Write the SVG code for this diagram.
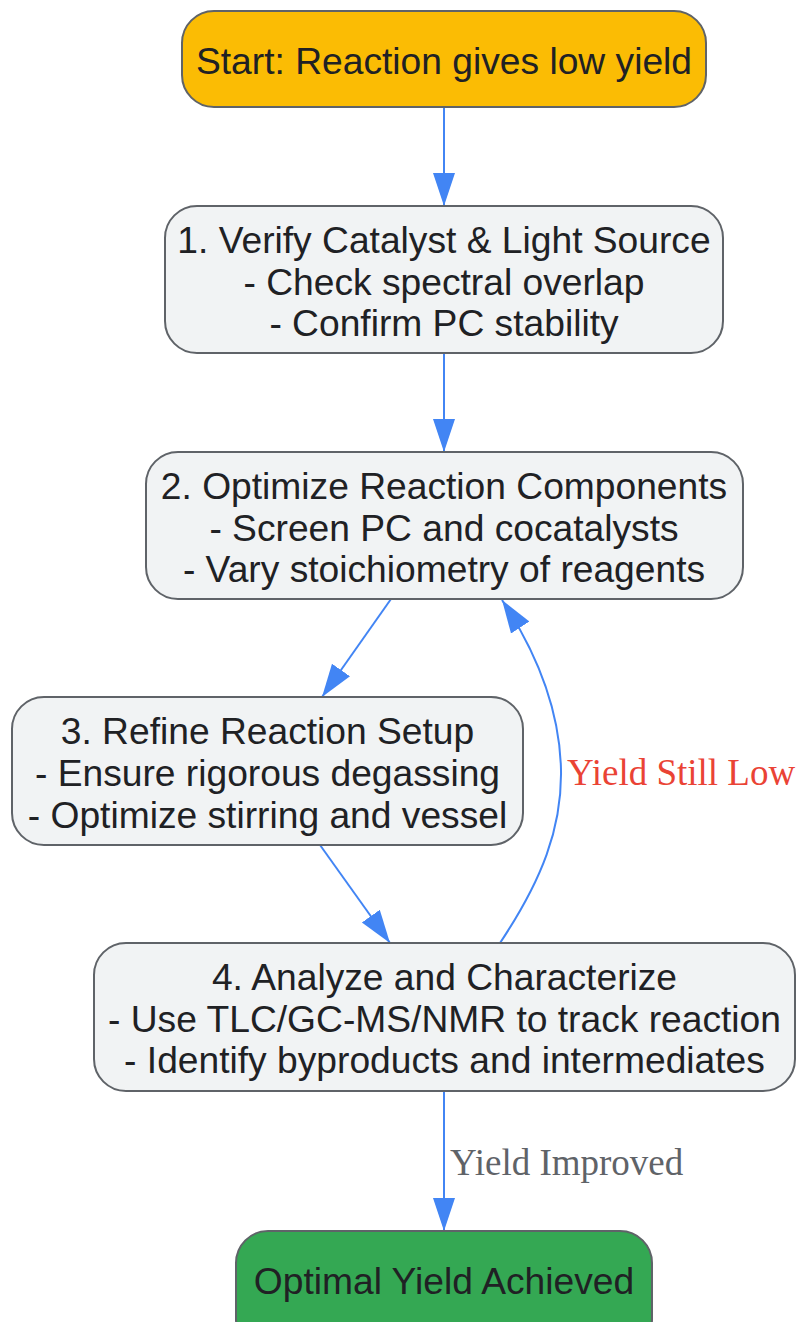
<svg xmlns="http://www.w3.org/2000/svg" width="798" height="1322" viewBox="0 0 798 1322">
<style>
.box{fill:#F1F3F4;stroke:#5F6368;stroke-width:2}
.t{font-family:"Liberation Sans",Arial,sans-serif;font-size:37.2px;fill:#202124;text-anchor:middle}
.e{fill:none;stroke:#4285F4;stroke-width:2}
.lbl{font-family:"Liberation Serif","Times New Roman",serif;font-size:37px}
</style>
<defs>
<marker id="ah" markerUnits="userSpaceOnUse" markerWidth="34" markerHeight="24" refX="33" refY="11" orient="auto" viewBox="0 0 34 22">
<path d="M0,0 L33,11 L0,22 Z" fill="#4285F4"/>
</marker>
</defs>
<rect width="798" height="1322" fill="#FFFFFF"/>
<g id="edges">
<path class="e" d="M444,107 L444,206" marker-end="url(#ah)"/>
<path class="e" d="M444,353 L444,452" marker-end="url(#ah)"/>
<path class="e" d="M391,599 L322,697" marker-end="url(#ah)"/>
<path class="e" d="M320,845 L390,943" marker-end="url(#ah)"/>
<path class="e" d="M500,943 C542,880 562,828 561,770 C560,720 545,665 502,600" marker-end="url(#ah)"/>
<path class="e" d="M444,1091 L444,1231" marker-end="url(#ah)"/>
<text class="lbl" x="567" y="785" fill="#EA4335">Yield Still Low</text>
<text class="lbl" x="450" y="1175" fill="#5F6368">Yield Improved</text>
</g>
<g id="start">
<rect x="182" y="11" width="524" height="96" rx="32" fill="#FBBC04" stroke="#5F6368" stroke-width="2"/>
<text class="t" x="444" y="74">Start: Reaction gives low yield</text>
</g>
<g id="step1">
<rect class="box" x="165" y="206" width="558" height="147" rx="32"/>
<text class="t" x="444" y="253">1. Verify Catalyst &amp; Light Source</text>
<text class="t" x="444" y="295">- Check spectral overlap</text>
<text class="t" x="444" y="336">- Confirm PC stability</text>
</g>
<g id="step2">
<rect class="box" x="146" y="452" width="597" height="147" rx="32"/>
<text class="t" x="444" y="499">2. Optimize Reaction Components</text>
<text class="t" x="444" y="541">- Screen PC and cocatalysts</text>
<text class="t" x="444" y="582">- Vary stoichiometry of reagents</text>
</g>
<g id="step3">
<rect class="box" x="12" y="697" width="511" height="148" rx="32"/>
<text class="t" x="267.5" y="744">3. Refine Reaction Setup</text>
<text class="t" x="267.5" y="786">- Ensure rigorous degassing</text>
<text class="t" x="267.5" y="828">- Optimize stirring and vessel</text>
</g>
<g id="step4">
<rect class="box" x="94" y="943" width="701" height="148" rx="32"/>
<text class="t" x="444.5" y="990">4. Analyze and Characterize</text>
<text class="t" x="444.5" y="1032">- Use TLC/GC-MS/NMR to track reaction</text>
<text class="t" x="444.5" y="1073">- Identify byproducts and intermediates</text>
</g>
<g id="end">
<rect x="236" y="1231" width="416" height="120" rx="32" fill="#34A853" stroke="#5F6368" stroke-width="2"/>
<text class="t" x="444" y="1294">Optimal Yield Achieved</text>
</g>
</svg>
